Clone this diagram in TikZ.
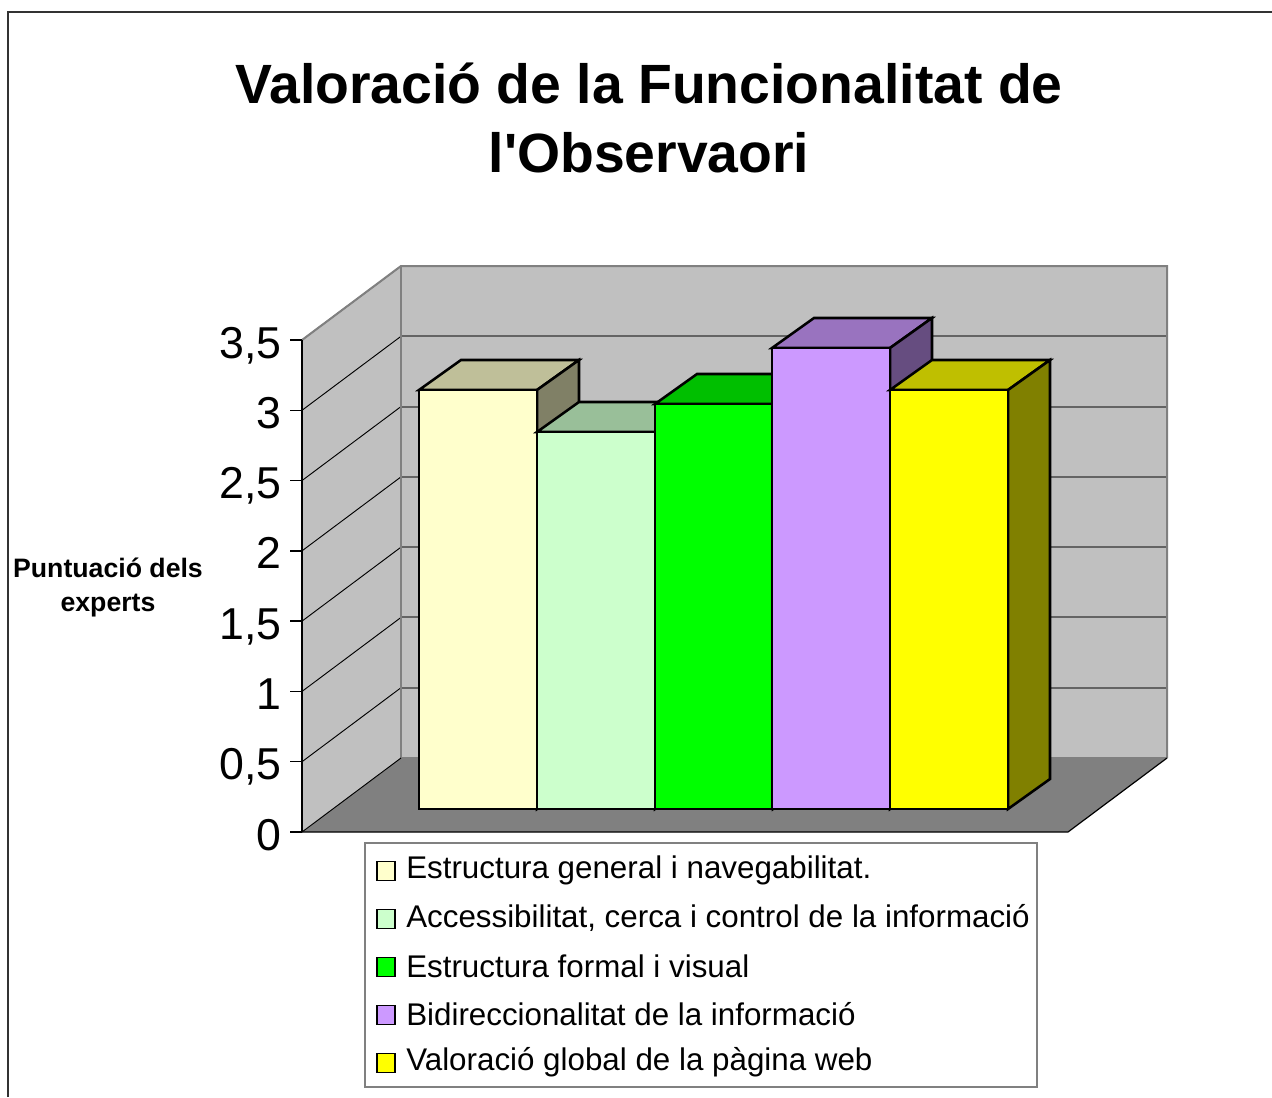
\documentclass[tikz,border=0pt]{standalone}
\usepackage{fontspec}
\setmainfont{Liberation Sans}
\newfontfamily\titlefont{Liberation Sans}[Ligatures=TeXOff]
\definecolor{wallc}{RGB}{192,192,192}
\definecolor{floorc}{RGB}{128,128,128}
\definecolor{gridc}{RGB}{100,100,100}
\definecolor{frontA}{RGB}{255,255,204}\definecolor{topA}{RGB}{191,191,153}\definecolor{sideA}{RGB}{128,128,102}
\definecolor{frontB}{RGB}{204,255,204}\definecolor{topB}{RGB}{153,191,153}\definecolor{sideB}{RGB}{102,128,102}
\definecolor{frontC}{RGB}{0,255,0}\definecolor{topC}{RGB}{0,191,0}\definecolor{sideC}{RGB}{0,128,0}
\definecolor{frontD}{RGB}{204,153,255}\definecolor{topD}{RGB}{153,115,191}\definecolor{sideD}{RGB}{102,77,128}
\definecolor{frontE}{RGB}{255,255,0}\definecolor{topE}{RGB}{191,191,0}\definecolor{sideE}{RGB}{128,128,0}
\tikzset{
  barline/.style={draw=black,line width=1.9pt,line join=miter},
  ylab/.style={anchor=base east,font=\fontsize{33.5}{33.5}\selectfont,inner sep=0pt},
  legtext/.style={anchor=west,font=\fontsize{23.5}{23.5}\selectfont,inner sep=0pt},
  legmark/.style={draw=black,line width=0.9pt,minimum width=13.5pt,minimum height=14pt,inner sep=0pt},
  titletext/.style={anchor=base,font=\titlefont\fontsize{41.5}{41.5}\selectfont\bfseries,inner sep=0pt},
}
\newcommand{\drawbar}[4]{% x-left, top y, front color, suffix
  \filldraw[barline,fill=top#4] (#1,#2) -- ({#1+118},#2) -- ({#1+160},{#2-30}) -- ({#1+42},{#2-30}) -- cycle;
  \filldraw[barline,fill=side#4] ({#1+118},#2) -- ({#1+160},{#2-30}) -- ({#1+160},779) -- ({#1+118},809) -- cycle;
  \filldraw[barline,fill=front#4] (#1,#2) rectangle ({#1+118},809);
}
\begin{document}
\begin{tikzpicture}[x=0.75pt,y=-0.75pt]
\useasboundingbox (0,0) rectangle (1272,1097);
\fill[white] (0,0) rectangle (1272,1097);
\draw[draw={rgb,255:red,50;green,50;blue,50},line width=1.5pt] (8,1097) -- (8,12) -- (1272,12);
% title
\node[titletext] (t1) at (649,103) {Valoració de la Funcionalitat de};
\node[titletext] (t2) at (649,172) {l'Observaori};
% walls
\fill[wallc] (401,266) rectangle (1167,758);
\fill[wallc] (302,340) -- (401,266) -- (401,758) -- (302,832) -- cycle;
\fill[floorc] (302,832) -- (401,758) -- (1167,758) -- (1068,832) -- cycle;
\foreach \v in {0.5,1,...,3.5}{
  \draw[gridc,line width=1.5pt] (401,{758-140.57*\v}) -- (1167,{758-140.57*\v});
  \draw[black,line width=0.7pt] (302,{832-140.57*\v}) -- (401,{758-140.57*\v});
}
\draw[floorc,line width=1.5pt] (302,340) -- (401,266) -- (1167,266) -- (1167,758);
\draw[floorc,line width=1.5pt] (401,266) -- (401,758) -- (1167,758);
\draw[black,line width=0.9pt] (302,832) -- (1068,832) -- (1167,758);
\draw[black,line width=0.7pt] (302,832) -- (401,758);
% axis
\draw[black,line width=1pt] (302,340) -- (302,832);
\foreach \v/\t in {0/0,0.5/{0,5},1/1,1.5/{1,5},2/2,2.5/{2,5},3/3,3.5/{3,5}}{
  \draw[black,line width=1pt] (290,{832-140.57*\v}) -- (302,{832-140.57*\v});
  \node[ylab] at (282,{832-140.57*\v+18}) {\t};
}
% bars
\drawbar{419}{390}{A}{A}
\drawbar{537}{432}{B}{B}
\drawbar{655}{404}{C}{C}
\drawbar{772}{348}{D}{D}
\drawbar{890}{390}{E}{E}
% y title
\node[font=\fontsize{20}{25.5}\selectfont\bfseries,align=center] (yt) at (108,587) {Puntuació dels\\experts};
% legend
\draw[floorc,line width=1.2pt] (365,843) rectangle (1037,1087);
\foreach \c/\t [count=\i from 0] in {A/{Estructura general i navegabilitat.},B/{Accessibilitat, cerca i control de la informació},C/{Estructura formal i visual},D/{Bidireccionalitat de la informació},E/{Valoració global de la pàgina web}}{
  \node[legmark,fill=front\c] (m\i) at (386,{871+48*\i}) {};
  \node[legtext] (l\i) at (406,{870+48*\i}) {\t};
}
\end{tikzpicture}
\end{document}
